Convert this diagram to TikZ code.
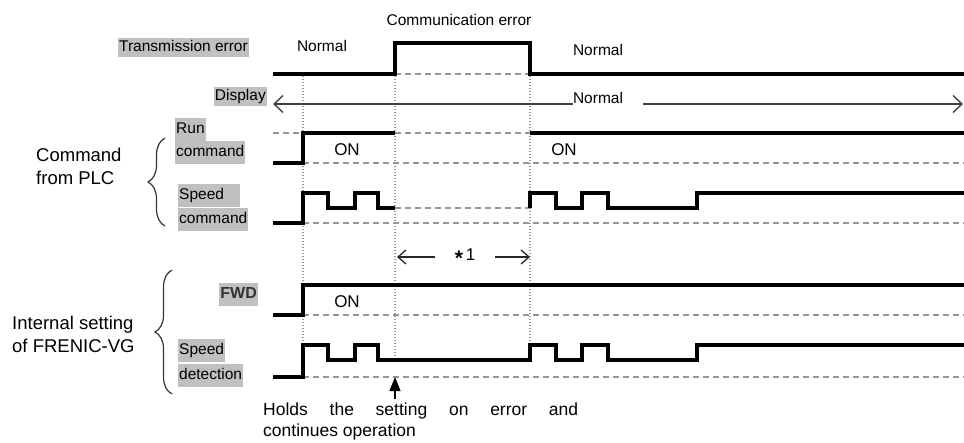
\documentclass[tikz,border=0pt]{standalone}
\usepackage{fontspec}
\setmainfont{Liberation Sans}
\usetikzlibrary{arrows.meta, positioning, decorations.pathreplacing}

\definecolor{lblgrey}{RGB}{192,192,192}
\definecolor{refgrey}{RGB}{150,150,150}

\begin{document}
\begin{tikzpicture}[x=1pt, y=-1pt,
            % Signal traces
            sig/.style={line width=3.2pt, line join=miter, black},
            % Reference levels
            ref/.style={dash pattern=on 6pt off 4pt, line width=1.6pt, color=refgrey},
            % Timing guides
            tline/.style={dash pattern=on 1pt off 2pt, line width=1.3pt, color=refgrey},
            % Highlighted signal names
            greylbl/.style={fill=lblgrey, inner xsep=1pt, inner ysep=4pt,
                    text height=11.5pt, text depth=3.5pt,
                    font=\fontsize{15.5}{18}\selectfont},
            % Plain texts
            txt/.style={inner sep=0pt, font=\fontsize{15.5}{18}\selectfont},
            group/.style={inner sep=0pt, align=left, font=\fontsize{18.5}{23}\selectfont},
            onlbl/.style={inner sep=0pt, font=\fontsize{17}{20}\selectfont},
            % Arrows
            disparr/.style={line width=1.4pt, color=black!75,
                    -{Straight Barb[length=9pt, width=17pt, line width=1.4pt]}},
            thinarr/.style={line width=1.3pt, color=black!85,
                    -{Straight Barb[length=8pt, width=14pt, line width=1.3pt]}},
            holdarr/.style={line width=1.4pt, -{Triangle[length=14pt, width=11pt]}},
            brace/.style={decorate, decoration={brace, amplitude=17pt},
                    line width=1.2pt, color=black!80}
        ]

        \useasboundingbox (0,0) rectangle (964,442);

        % Timing guides
        \draw[tline] (303,76) -- (303,377);
        \draw[tline] (395,76) -- (395,360);
        \draw[tline] (530,76) -- (530,360);

        % Reference levels
        \draw[ref] (395,74) -- (530,74);
        \draw[ref] (273,133) -- (303,133);
        \draw[ref] (395,133) -- (530,133);
        \draw[ref] (395,208) -- (530,208);
        \foreach \y in {163,223,315,377}
            \draw[ref] (303,\y) -- (964,\y);

        % Transmission error
        \draw[sig] (273,74) -- (395,74) -- (395,43) -- (530,43) -- (530,74) -- (964,74);

        % Run command
        \draw[sig] (273,163) -- (303,163) -- (303,133) -- (395,133);
        \draw[sig] (530,133) -- (964,133);

        % Speed command
        \draw[sig] (273,223) -- (303,223) -- (303,193) -- (328,193) -- (328,208)
            -- (355,208) -- (355,193) -- (378,193) -- (378,208) -- (395,208);
        \draw[sig] (530,208) -- (530,193) -- (556,193) -- (556,208) -- (582,208)
            -- (582,193) -- (608,193) -- (608,208) -- (697,208) -- (697,193) -- (964,193);

        % FWD
        \draw[sig] (273,315) -- (303,315) -- (303,285) -- (964,285);

        % Speed detection
        \draw[sig] (273,377) -- (303,377) -- (303,345) -- (328,345) -- (328,360)
            -- (355,360) -- (355,345) -- (378,345) -- (378,360) -- (530,360)
            -- (530,345) -- (556,345) -- (556,360) -- (582,360) -- (582,345)
            -- (608,345) -- (608,360) -- (697,360) -- (697,345) -- (964,345);

        % Signal names
        \node[greylbl, inner ysep=2pt, anchor=east] (trerr) at (249,47.5) {Transmission error};
        \node[greylbl, inner ysep=2pt, anchor=east] (disp) at (267,96) {Display};
        \node[greylbl, anchor=west] (run1) at (175,129.5) {Run};
        \node[greylbl, anchor=west] (run2) at (175,152.5) {command};
        \node[greylbl, anchor=west, text width=60pt] (spd1) at (178,195) {Speed};
        \node[greylbl, anchor=west] (spd2) at (178,219.5) {command};
        \node[greylbl, anchor=east, font=\fontsize{16}{18}\selectfont\bfseries, text=black!80] (fwd) at (258,294) {FWD};
        \node[greylbl, anchor=west] (det1) at (178,350.5) {Speed};
        \node[greylbl, anchor=west] (det2) at (178,375) {detection};

        % Groups
        \node[group, anchor=west] (plc) at (36,166) {Command\\from PLC};
        \node[group, anchor=west] (frenic) at (12,334) {Internal setting\\of FRENIC-VG};
        \coordinate (b1top) at (165,138);
        \coordinate (b1bot) at (165,226);
        \coordinate (b2top) at (172,270);
        \coordinate (b2bot) at (172,394);
        \draw[brace] (b1bot) -- (b1top);
        \draw[brace] (b2bot) -- (b2top);

        % States
        \node[txt] (comerr) at (459,20) {Communication error};
        \node[txt] (norm1) at (322,46) {Normal};
        \node[txt] (norm2) at (598,50) {Normal};
        \node[onlbl] (on1) at (347,150) {ON};
        \node[onlbl] (on2) at (564,150) {ON};
        \node[onlbl] (on3) at (347,302) {ON};

        % Display line
        \node[txt] (dnorm) at (598,98) {Normal};
        \coordinate (dispL) at (273,104);
        \coordinate (dispM) at (643,104);
        \coordinate (dispR) at (963,104);
        \draw[disparr] (dnorm.west |- dispL) -- (dispL);
        \draw[disparr] (dispM) -- (dispR);

        % Error duration
        \node[onlbl, inner xsep=20pt] (star) at (465,257)
            {\raisebox{-5pt}{\fontsize{21}{21}\selectfont\bfseries *}\,1};
        \coordinate (s1L) at (397,257);
        \coordinate (s1R) at (530,257);
        \draw[thinarr] (star.west) -- (s1L);
        \draw[thinarr] (star.east) -- (s1R);

        % Hold note
        \coordinate (holdA) at (395,399);
        \coordinate (holdB) at (395,377);
        \draw[holdarr] (holdA) -- (holdB);
        \node[anchor=north west, inner sep=0pt, text width=315pt, align=justify,
              font=\fontsize{17.5}{21}\selectfont] (hold) at (263,403)
            {Holds the setting on error and\linebreak continues operation};

    \end{tikzpicture}
\end{document}
